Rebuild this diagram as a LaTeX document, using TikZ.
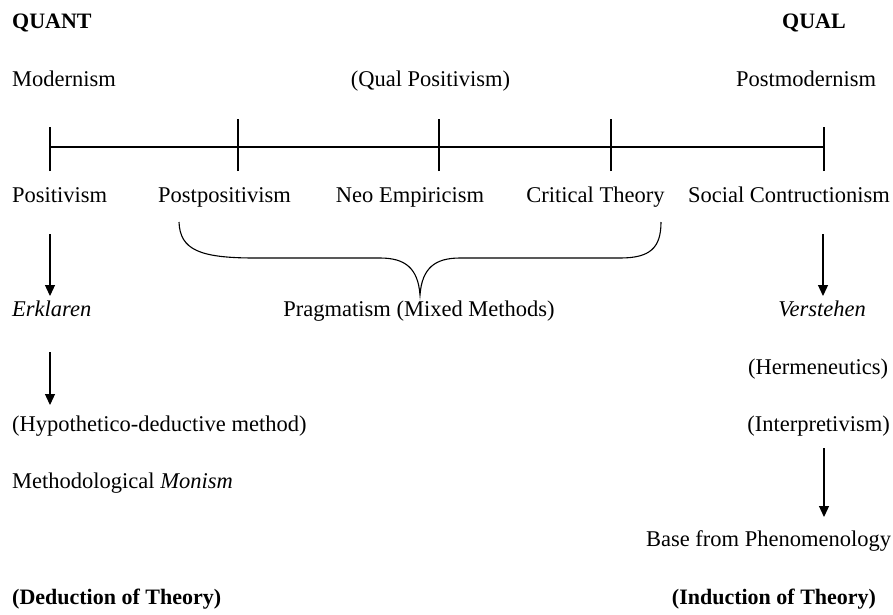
\documentclass[tikz,border=0pt]{standalone}
\usepackage{fontspec}
\setmainfont{Liberation Serif}
\usetikzlibrary{arrows.meta}
\begin{document}
\begin{tikzpicture}[x=1pt,y=-1pt,
  txt/.style={inner sep=0pt, font=\fontsize{22.5}{27}\selectfont},
  lft/.style={txt, anchor=base west},
  ctr/.style={txt, anchor=base},
  bld/.style={font=\fontsize{22}{27}\selectfont\bfseries},
  axis/.style={line width=1.2pt},
  arr/.style={line width=1.2pt, -{Triangle[width=10pt,length=11pt]}},
  brace/.style={line width=1.1pt}]
\useasboundingbox (0,0) rectangle (893,614);
% headings
\node[lft, bld] (quant) at (12,28) {QUANT};
\node[ctr, bld] (qual) at (814,28) {QUAL};
\node[lft] (modern) at (12,86) {Modernism};
\node[ctr] (qualpos) at (430.5,86) {(Qual Positivism)};
\node[ctr] (postmod) at (806,86) {Postmodernism};
% timeline
\coordinate (t1) at (50,147);
\coordinate (t2) at (238,147);
\coordinate (t3) at (439,147);
\coordinate (t4) at (611,147);
\coordinate (t5) at (824,147);
\draw[axis] (t1) -- (t5);
\draw[axis] ([yshift=-24pt]t1) -- ([yshift=20pt]t1);
\draw[axis] ([yshift=-24pt]t2) -- ([yshift=28pt]t2);
\draw[axis] ([yshift=-24pt]t3) -- ([yshift=28pt]t3);
\draw[axis] ([yshift=-24pt]t4) -- ([yshift=28pt]t4);
\draw[axis] ([yshift=-24pt]t5) -- ([yshift=20pt]t5);
% paradigm labels
\node[lft] (posit) at (12,202) {Positivism};
\node[ctr] (postpos) at (224.5,202) {Postpositivism};
\node[ctr] (neo) at (410,202) {Neo Empiricism};
\node[ctr] (crit) at (595.5,202) {Critical Theory};
\node[ctr] (social) at (789,202) {Social Contructionism};
% brace
\coordinate (bl) at (179,222);
\coordinate (bt) at (420,295);
\coordinate (br) at (661,222);
\draw[brace] (bl) .. controls (180,250) and (200,258) .. (255,258)
  -- (380,258) .. controls (405,258) and (418,268) .. (bt)
  .. controls (422,268) and (435,258) .. (460,258)
  -- (620,258) .. controls (650,258) and (661,248) .. (br);
\node[ctr] (prag) at (419,316) {Pragmatism (Mixed Methods)};
% left column
\node[lft] (erk) at (12,316) {\itshape Erklaren};
\node[lft] (hypo) at (12,431) {(Hypothetico-deductive method)};
\node[lft] (mono) at (12,488) {Methodological \itshape Monism};
\node[lft, bld] (ded) at (12,604) {(Deduction of Theory)};
% right column
\node[ctr] (verst) at (822,316) {\itshape Verstehen};
\node[ctr] (herm) at (818,374) {(Hermeneutics)};
\node[ctr] (interp) at (818.5,431) {(Interpretivism)};
\node[ctr] (base) at (768.5,546) {Base from Phenomenology};
\node[ctr, bld] (ind) at (774,604) {(Induction of Theory)};
% arrows
\coordinate (a1s) at (50,234);
\coordinate (a1e) at (50,296);
\coordinate (a2s) at (50,352);
\coordinate (a2e) at (50,405);
\coordinate (a3s) at (823,234);
\coordinate (a3e) at (823,296);
\coordinate (a4s) at (824,448);
\coordinate (a4e) at (824,517);
\draw[arr] (a1s) -- (a1e);
\draw[arr] (a2s) -- (a2e);
\draw[arr] (a3s) -- (a3e);
\draw[arr] (a4s) -- (a4e);
\end{tikzpicture}
\end{document}
